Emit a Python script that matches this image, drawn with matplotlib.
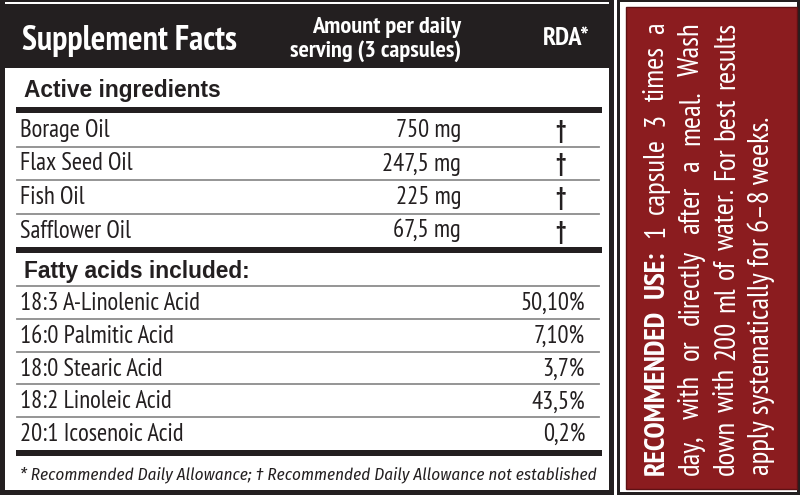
import matplotlib
matplotlib.use('Agg')
from matplotlib import pyplot as plt
from matplotlib.patches import Rectangle

# table content
ingredients = ['Borage Oil', 'Flax Seed Oil', 'Fish Oil', 'Safflower Oil']
amounts = ['750 mg', '247,5 mg', '225 mg', '67,5 mg']
rda_marks = ['\u2020', '\u2020', '\u2020', '\u2020']
acids = ['18:3 A-Linolenic Acid', '16:0 Palmitic Acid', '18:0 Stearic Acid',
         '18:2 Linoleic Acid', '20:1 Icosenoic Acid']
acid_shares = ['50,10%', '7,10%', '3,7%', '43,5%', '0,2%']
footnote = ('* Recommended Daily Allowance; \u2020 Recommended Daily Allowance '
            'not established')
usage_lines = [
    [('RECOMMENDED', 'bold'), ('USE:', 'bold'), ('1', 'normal'), ('capsule', 'normal'),
     ('3', 'normal'), ('times', 'normal'), ('a', 'normal')],
    [(w, 'normal') for w in 'day, with or directly after a meal. Wash'.split()],
    [(w, 'normal') for w in 'down with 200 ml of water. For best results'.split()],
]
usage_last = 'apply systematically for 6\u20138 weeks.'

NARROW = ['PT Sans Narrow', 'Fira Sans Condensed', 'DejaVu Sans']
ITALIC = ['Fira Sans Condensed', 'DejaVu Sans']
ARIAL = ['Liberation Sans', 'DejaVu Sans']
BLACK = '#231f20'
RED = '#8b1c1f'
GREY = '#8c8c8c'

fig = plt.figure(figsize=(8, 4.95), dpi=100)
ax = fig.add_axes([0, 0, 1, 1])
ax.set_xlim(0, 800)
ax.set_ylim(495, 0)
ax.axis('off')
renderer = fig.canvas.get_renderer()


def fit(t, width):
    w = t.get_window_extent(renderer).width
    t.set_fontsize(t.get_fontsize() * width / w)
    return t.get_fontsize()


def rect(x0, y0, x1, y1, color, **kw):
    ax.add_patch(Rectangle((x0, y0), x1 - x0, y1 - y0, facecolor=color,
                           edgecolor='none', **kw))


# ---- left panel frame and header
rect(0, 0, 614, 495, BLACK)
rect(5, 2, 609, 4, 'white')
rect(5, 68, 609, 490, 'white')

t = ax.text(22, 50, 'Supplement Facts', color='white', family=NARROW,
            weight='bold', fontsize=22, va='baseline')
fit(t, 214)
t = ax.text(461, 33, 'Amount per daily', color='white', family=NARROW,
            weight='bold', fontsize=15, ha='right', va='baseline')
fit(t, 150)
t = ax.text(461, 57, 'serving (3 capsules)', color='white', family=NARROW,
            weight='bold', fontsize=15, ha='right', va='baseline')
fit(t, 172)
t = ax.text(543, 45, 'RDA*', color='white', family=NARROW,
            weight='bold', fontsize=15, va='baseline')
fit(t, 47)

# ---- active ingredients
t = ax.text(24, 97, 'Active ingredients', color=BLACK, family=ARIAL,
            weight='bold', fontsize=16, va='baseline')
fit(t, 197)
rect(16, 107, 602, 113, BLACK)

# row text size taken from the width of the longest label
probe = ax.text(20, 0, acids[0], family=NARROW, fontsize=16)
fs_row = fit(probe, 180)
probe.remove()

top, bottom = 113, 247
row_h = (bottom - top) / len(ingredients)
for i, (name, amt, mark) in enumerate(zip(ingredients, amounts, rda_marks)):
    y0 = top + i * row_h
    base = y0 + 24
    ax.text(20, base, name, color=BLACK, family=NARROW, fontsize=fs_row, va='baseline')
    ax.text(461, base, amt, color=BLACK, family=NARROW, fontsize=fs_row,
            ha='right', va='baseline')
    ax.text(561, base + 1, mark, color=BLACK, family=NARROW, fontsize=fs_row,
            weight='bold', ha='center', va='baseline')
    if i < len(ingredients) - 1:
        ax.plot([17, 599], [y0 + row_h] * 2, color=GREY, lw=1.3)
rect(16, 247, 602, 253, BLACK)

# ---- fatty acids
t = ax.text(24, 278, 'Fatty acids included:', color=BLACK, family=ARIAL,
            weight='bold', fontsize=16, va='baseline')
fit(t, 226)
ax.plot([17, 599], [286, 286], color=GREY, lw=1.3)

top, bottom = 286, 450
row_h = (bottom - top) / len(acids)
for i, (name, share) in enumerate(zip(acids, acid_shares)):
    y0 = top + i * row_h
    base = y0 + 24
    ax.text(20, base, name, color=BLACK, family=NARROW, fontsize=fs_row, va='baseline')
    ax.text(585, base, share, color=BLACK, family=NARROW, fontsize=fs_row,
            ha='right', va='baseline')
    if i < len(acids) - 1:
        ax.plot([17, 599], [y0 + row_h] * 2, color=GREY, lw=1.3)
rect(16, 450, 602, 456, BLACK)

t = ax.text(20, 479, footnote, color=BLACK, family=ITALIC, style='italic',
            fontsize=13, va='baseline')
fit(t, 576)

# ---- right panel
rect(617, 0, 800, 495, BLACK)
rect(620, 2, 797, 492, 'white')
ax.add_patch(Rectangle((626, 7), 171, 482, facecolor=RED, edgecolor='#5e1014', lw=1))

y_start, y_end = 475, 22
baselines = [664, 699, 734, 769]
fs = 16
last = ax.text(baselines[3], y_start, usage_last, color='white', family=NARROW,
               fontsize=fs, rotation=90, rotation_mode='anchor',
               ha='left', va='baseline')
fs = fs * 358 / last.get_window_extent(renderer).height
last.set_fontsize(fs)

for xb, words in zip(baselines, usage_lines):
    objs = [ax.text(xb, y_start, w, color='white', family=NARROW, weight=wt,
                    fontsize=fs, rotation=90, rotation_mode='anchor',
                    ha='left', va='baseline') for w, wt in words]
    sizes = [o.get_window_extent(renderer).height for o in objs]
    gap = (y_start - y_end - sum(sizes)) / (len(objs) - 1)
    y = y_start
    for o, s in zip(objs, sizes):
        o.set_position((xb, y))
        y -= s + gap

fig.savefig('out.png', dpi=100)
